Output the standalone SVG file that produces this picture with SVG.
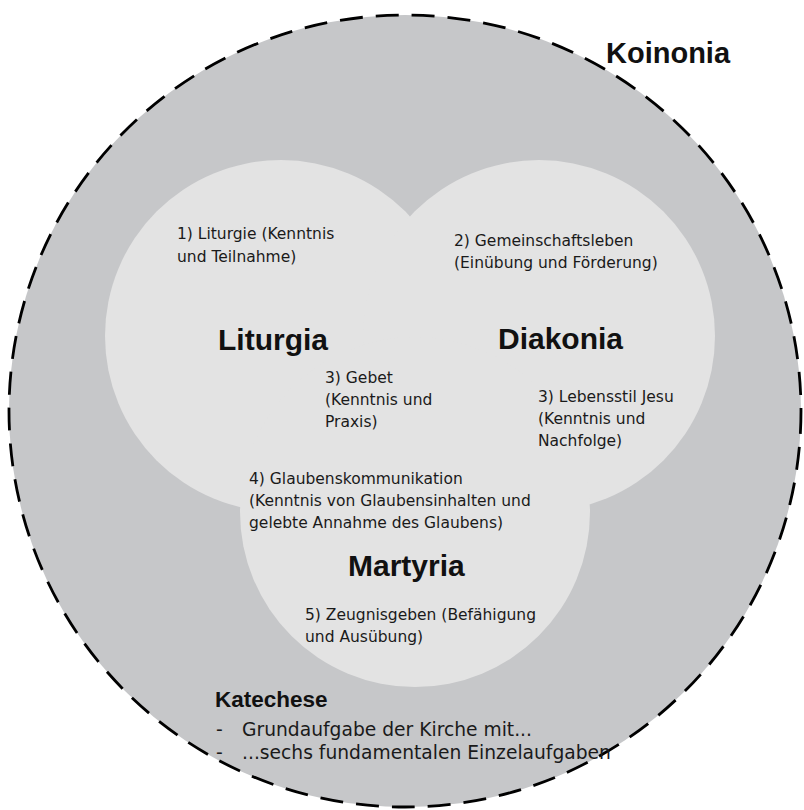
<svg xmlns="http://www.w3.org/2000/svg" width="804" height="810" viewBox="0 0 804 810">
<style>
.lobe{fill:#e3e3e3;stroke:none}
.t{font-family:"DejaVu Sans","Liberation Sans",sans-serif;font-size:15.5px;fill:#1a1a1a}
.b{font-family:"DejaVu Sans","Liberation Sans",sans-serif;font-size:18.7px;fill:#1a1a1a}
.h{font-family:"Liberation Sans",Arial,sans-serif;font-weight:bold;font-size:30px;fill:#111}
.k{font-family:"Liberation Sans",Arial,sans-serif;font-weight:bold;font-size:22.5px;fill:#111}
</style>
<rect width="804" height="810" fill="#ffffff"/>
<g id="koinonia">
<circle cx="405" cy="411" r="396" fill="#c6c7c9" stroke="#000" stroke-width="2.8" stroke-dasharray="23 13"/>
</g>
<g id="lobes">
<circle id="lobe-liturgia" class="lobe" cx="281" cy="336" r="176"/>
<circle id="lobe-diakonia" class="lobe" cx="539" cy="336" r="176"/>
<circle id="lobe-martyria" class="lobe" cx="415" cy="512" r="175"/>
</g>
<g id="connectors"></g>
<g id="koinonia-label">
<text class="h" x="606" y="63" style="font-size:29px">Koinonia</text>
</g>
<g id="liturgia">
<text class="h" x="218" y="350">Liturgia</text>
<text class="t" x="177" y="239">1) Liturgie (Kenntnis</text>
<text class="t" x="177" y="262">und Teilnahme)</text>
<text class="t" x="325" y="383">3) Gebet</text>
<text class="t" x="325" y="405">(Kenntnis und</text>
<text class="t" x="325" y="427">Praxis)</text>
</g>
<g id="diakonia">
<text class="h" x="498" y="349">Diakonia</text>
<text class="t" x="454" y="246">2) Gemeinschaftsleben</text>
<text class="t" x="454" y="268">(Einübung und Förderung)</text>
<text class="t" x="538" y="402">3) Lebensstil Jesu</text>
<text class="t" x="538" y="424">(Kenntnis und</text>
<text class="t" x="538" y="446">Nachfolge)</text>
</g>
<g id="martyria">
<text class="h" x="348" y="576">Martyria</text>
<text class="t" x="249" y="484">4) Glaubenskommunikation</text>
<text class="t" x="249" y="506">(Kenntnis von Glaubensinhalten und</text>
<text class="t" x="249" y="528">gelebte Annahme des Glaubens)</text>
<text class="t" x="305" y="620">5) Zeugnisgeben (Befähigung</text>
<text class="t" x="305" y="642">und Ausübung)</text>
</g>
<g id="katechese">
<text class="k" x="215" y="707">Katechese</text>
<text class="b" x="216" y="736">-</text>
<text class="b" x="242" y="736">Grundaufgabe der Kirche mit...</text>
<text class="b" x="216" y="759">-</text>
<text class="b" x="242" y="759">...sechs fundamentalen Einzelaufgaben</text>
</g>
</svg>
